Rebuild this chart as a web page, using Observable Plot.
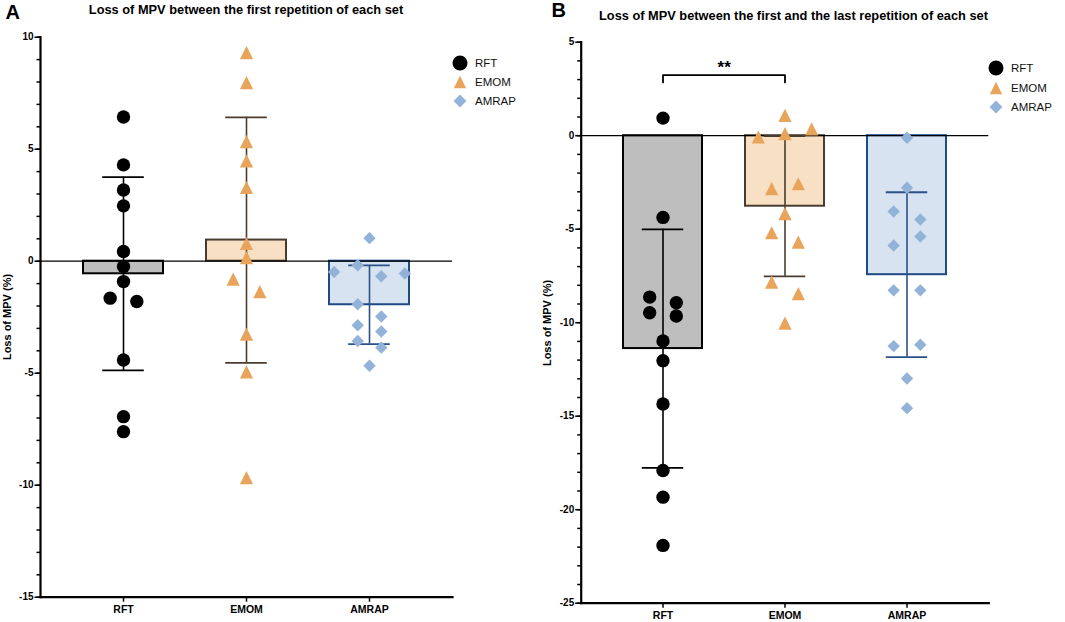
<!DOCTYPE html>
<html><head><meta charset="utf-8">
<script src="https://cdn.jsdelivr.net/npm/d3@7"></script>
<script src="https://cdn.jsdelivr.net/npm/@observablehq/plot@0.6"></script>
<style>
body{margin:0;background:#fff;font-family:"Liberation Sans",Arial,sans-serif;color:#000;}
#root{position:relative;width:1065px;height:622px;overflow:hidden;background:#fff;}
.abs{position:absolute;white-space:nowrap;line-height:1;}
.title{font-weight:bold;font-size:12.8px;transform:translate(-50%,-50%);}
.letter{font-weight:bold;font-size:20px;transform:translate(-50%,-50%);}
.ylab{font-weight:bold;font-size:11px;transform:translate(-50%,-50%) rotate(-90deg);}
.lrow{position:absolute;display:flex;align-items:center;transform:translateY(-50%);font-size:11.5px;color:#111;}
svg{overflow:visible;}
</style></head><body><div id="root"></div>
<script>
// ---------- data ----------
const groups = ["RFT", "EMOM", "AMRAP"];
// Panel A: loss of MPV between the first repetition of each set (%)
const rftA   = [6.44, 4.30, 3.18, 2.47, 0.43, -0.24, -0.91, -1.65, -1.80, -4.41, -6.94, -7.61];
const emomA  = [9.31, 7.97, 5.34, 4.48, 3.29, 0.79, 0.16, -0.80, -1.36, -3.26, -4.94, -9.66];
const amrapA = [1.03, -0.48, -0.18, -0.67, -0.55, -1.92, -2.47, -2.86, -3.14, -3.56, -3.86, -4.67];
// Panel B: loss of MPV between the first and the last repetition of each set (%)
const rftB   = [0.94, -4.37, -8.63, -8.93, -9.47, -9.64, -10.98, -12.03, -14.35, -17.90, -19.33, -21.91];
const emomB  = [1.09, -0.07, 0.11, 0.37, -2.83, -2.57, -4.17, -5.19, -5.69, -7.83, -8.45, -10.02];
const amrapB = [-0.11, -2.78, -4.05, -4.48, -5.87, -5.39, -8.27, -8.27, -11.25, -11.18, -12.98, -14.57];
const yDomainA = [-15, 10];
const yDomainB = [-25, 5];
const yTicksA = [-15, -10, -5, 0, 5, 10];
const yTicksB = [-25, -20, -15, -10, -5, 0, 5];
const titleA = "Loss of MPV between the first repetition of each set";
const titleB = "Loss of MPV between the first and the last repetition of each set";
const yLabel = "Loss of MPV (%)";
const sigB = [{from: "RFT", to: "EMOM", label: "**", y: 3.24, foot: 2.85}];

// ---------- styles ----------
const symTriangle = {draw(ctx, size) { const r = Math.sqrt(size / Math.PI); ctx.moveTo(0, -r); ctx.lineTo(r, r); ctx.lineTo(-r, r); ctx.closePath(); }};
const symDiamond = {draw(ctx, size) { const r = Math.sqrt(size / Math.PI); ctx.moveTo(0, -r); ctx.lineTo(r, 0); ctx.lineTo(0, r); ctx.lineTo(-r, 0); ctx.closePath(); }};
const symCircle = {draw(ctx, size) { const r = Math.sqrt(size / Math.PI); ctx.moveTo(r, 0); ctx.arc(0, 0, r, 0, 2 * Math.PI); }};
const look = {
  RFT:   {dot: "#000000", bar: "#bebebe", edge: "#000000", err: "#000000", symbol: symCircle, r: 6.7, lr: 7.5},
  EMOM:  {dot: "#e9a45c", bar: "#f8e0c4", edge: "#4b3c30", err: "#4b3c30", symbol: symTriangle, r: 6.6, lr: 6.2},
  AMRAP: {dot: "#93b2d8", bar: "#d8e3f1", edge: "#1f4a85", err: "#2a5189", symbol: symDiamond, r: 6.2, lr: 6.4}
};
const SYM = 13; // symbol size in px used for the scatter layout

// column-scatter layout: rows of overlapping points spread symmetrically
function scatterOffsets(values, pxPerUnit, bw) {
  const order = d3.range(values.length).sort((a, b) => values[b] - values[a] || a - b);
  const rows = [];
  for (const i of order) {
    const row = rows[rows.length - 1];
    if (row && (values[row[0]] - values[i]) * pxPerUnit < SYM) row.push(i);
    else rows.push([i]);
  }
  const maxRow = d3.max(rows, r => r.length);
  const spacing = maxRow > 1 ? Math.min(2.05 * SYM, (bw - 0.75 * SYM) / (maxRow - 1)) : 0;
  const offs = new Array(values.length).fill(0);
  for (const row of rows) {
    row.sort((a, b) => a - b);
    row.forEach((idx, k) => { offs[idx] = (k - (row.length - 1) / 2) * spacing; });
  }
  return offs;
}

function panel({values, yDomain, yTicks, width, height, margins, sig}) {
  const [mt, mr, mb, ml] = margins;
  const xOpts = {domain: groups, paddingInner: 0.35, paddingOuter: 0.34};
  const xs = Plot.scale({x: {...xOpts, type: "band", range: [ml, width - mr]}});
  const bw = xs.bandwidth;
  const pxPerUnit = (height - mt - mb) / (yDomain[1] - yDomain[0]);
  const stats = groups.map((g, i) => ({group: g, mean: d3.mean(values[i]), sd: d3.deviation(values[i])}));
  const capInset = (bw - 42) / 2;
  const marks = [];
  for (const s of stats) {
    const L = look[s.group];
    marks.push(Plot.barY([s], {x: "group", y: "mean", fill: L.bar, stroke: L.edge, strokeWidth: 2}));
  }
  marks.push(Plot.ruleY([0], {stroke: "#000", strokeWidth: 1.3}));
  for (const s of stats) {
    const L = look[s.group];
    marks.push(Plot.ruleX([s], {x: "group", y1: d => d.mean - d.sd, y2: d => d.mean + d.sd, stroke: L.err, strokeWidth: 1.6}));
    marks.push(Plot.tickY([s], {x: "group", y: d => d.mean + d.sd, stroke: L.err, strokeWidth: 1.8, insetLeft: capInset, insetRight: capInset}));
    marks.push(Plot.tickY([s], {x: "group", y: d => d.mean - d.sd, stroke: L.err, strokeWidth: 1.8, insetLeft: capInset, insetRight: capInset}));
  }
  groups.forEach((g, i) => {
    const L = look[g];
    const offs = scatterOffsets(values[i], pxPerUnit, bw);
    const pts = values[i].map((v, j) => ({group: g, value: v, dx: offs[j]}));
    for (const dx of [...new Set(offs)]) {
      marks.push(Plot.dot(pts.filter(p => p.dx === dx), {x: "group", y: "value", dx, symbol: L.symbol, r: L.r, fill: L.dot, stroke: "none"}));
    }
  });
  if (sig) {
    for (const s of sig) {
      const path = [{g: s.from, y: s.foot}, {g: s.from, y: s.y}, {g: s.to, y: s.y}, {g: s.to, y: s.foot}];
      marks.push(Plot.line(path, {x: "g", y: "y", stroke: "#000", strokeWidth: 1.8}));
      marks.push(Plot.text([s], {x: "from", y: "y", text: "label", dx: (xs.apply(s.to) - xs.apply(s.from)) / 2, dy: -8, fontSize: 17, fontWeight: "bold", fill: "#000"}));
    }
  }
  marks.push(Plot.axisY(d3.range(yDomain[0], yDomain[1] + 1), {tickSize: 3.5, tickFormat: () => "", strokeWidth: 1.5, label: null}));
  marks.push(Plot.axisY(yTicks, {tickSize: 5.5, tickPadding: 1.5, fontSize: 10, fontWeight: "bold", tickFormat: d => String(d), strokeWidth: 1.5, label: null}));
  marks.push(Plot.axisX({tickSize: 5, tickPadding: 3, fontSize: 10.5, fontWeight: "bold", strokeWidth: 1.5, label: null}));
  marks.push(Plot.frame({anchor: "left", strokeWidth: 2.2}));
  marks.push(Plot.frame({anchor: "bottom", strokeWidth: 2.2}));
  return Plot.plot({
    width, height,
    marginTop: mt, marginRight: mr, marginBottom: mb, marginLeft: ml,
    style: {fontFamily: "Liberation Sans, Arial, sans-serif", fontSize: "10px", color: "#000", background: "transparent", overflow: "visible"},
    x: {...xOpts, type: "band"},
    y: {domain: yDomain},
    marks
  });
}

const root = document.getElementById("root");
function place(el, left, top) { el.style.position = "absolute"; el.style.left = left + "px"; el.style.top = top + "px"; root.appendChild(el); return el; }
function textDiv(cls, text, left, top) { const d = document.createElement("div"); d.className = "abs " + cls; d.textContent = text; return place(d, left, top); }

const svgA = panel({values: [rftA, emomA, amrapA], yDomain: yDomainA, yTicks: yTicksA, width: 530, height: 622, margins: [36.7, 78, 25.3, 40]});
place(svgA, 0, 0);
const svgB = panel({values: [rftB, emomB, amrapB], yDomain: yDomainB, yTicks: yTicksB, width: 535, height: 622, margins: [41.7, 76.7, 19.3, 50.7], sig: sigB});
place(svgB, 530, 0);

textDiv("letter", "A", 12.8, 12);
textDiv("letter", "B", 558.7, 10);
textDiv("title", titleA, 246, 10);
textDiv("title", titleB, 793.5, 16);
textDiv("ylab", yLabel, 7, 316.5);
textDiv("ylab", yLabel, 546.7, 323);

function legend(x, ys) {
  groups.forEach((g, i) => {
    const L = look[g];
    const row = document.createElement("div");
    row.className = "lrow";
    const svg = d3.create("svg").attr("width", 16).attr("height", 16).attr("viewBox", "-8 -8 16 16");
    const p = d3.path(); L.symbol.draw(p, Math.PI * L.lr * L.lr);
    svg.append("path").attr("d", p.toString()).attr("fill", L.dot);
    row.appendChild(svg.node());
    const t = document.createElement("span"); t.textContent = g; t.style.marginLeft = "7px";
    row.appendChild(t);
    place(row, x - 8, ys[i]);
  });
}
legend(460, [62.7, 82, 101]);
legend(996, [68.3, 88, 107.3]);
</script></body></html>
